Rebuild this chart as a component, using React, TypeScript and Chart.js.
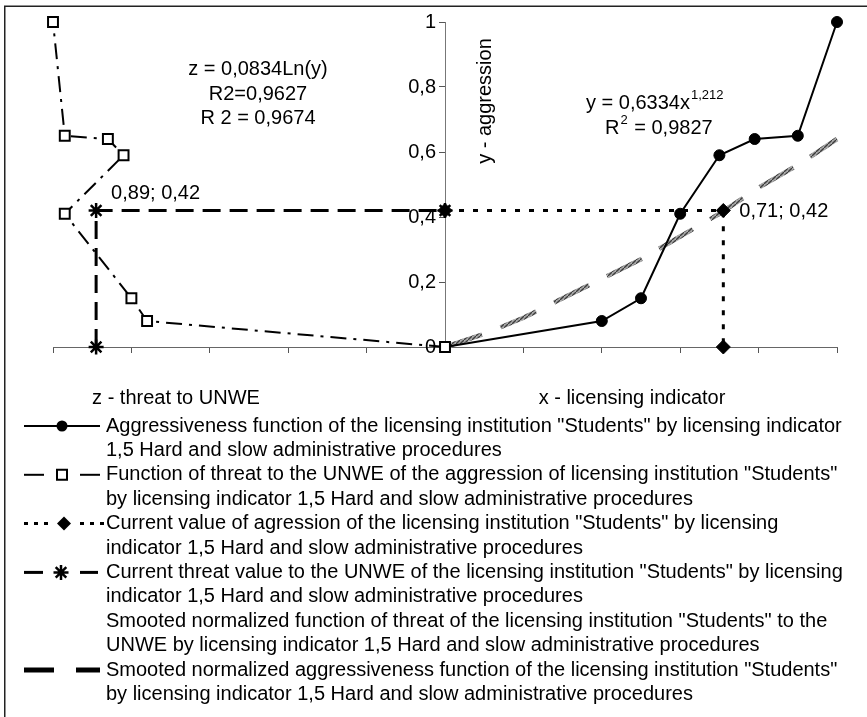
import React, { useEffect, useRef } from "react";
import { Chart, registerables } from "chart.js";

Chart.register(...registerables);

// ---- data ----
// y - aggression levels (shared by both empirical curves)
const aggressionLevels = [0, 0.08, 0.15, 0.41, 0.59, 0.64, 0.65, 1.0];
// x - licensing indicator for each aggression level
const licensingIndicator = [0, 0.4, 0.5, 0.6, 0.7, 0.79, 0.9, 1.0];
// z - threat to UNWE for each aggression level (drawn to the left of the y axis)
const threatToUnwe = [0, 0.76, 0.8, 0.97, 0.82, 0.86, 0.97, 1.0];

// current values
const currentX = 0.71;
const currentZ = 0.89;
const currentY = 0.42;

// smoothed aggressiveness function
const smoothX = [0, 0.1, 0.2, 0.3, 0.4, 0.5, 0.6, 0.7, 0.8, 0.9, 1.0];
const smoothY = [0, 0.04, 0.09, 0.15, 0.21, 0.27, 0.34, 0.41, 0.49, 0.56, 0.64];

// axis ticks
const yTicks = [0, 0.2, 0.4, 0.6, 0.8, 1];
const xTicks = [-1, -0.8, -0.6, -0.4, -0.2, 0, 0.2, 0.4, 0.6, 0.8, 1];

// texts
const zTrendLines = ["z = 0,0834Ln(y)", "R2=0,9627", "R 2 = 0,9674"];
const yTrendMain = "y = 0,6334x";
const yTrendExp = "1,212";
const yTrendR = "0,9827";
const yAxisTitle = "y - aggression";
const zAxisTitle = "z - threat to UNWE";
const xAxisTitle = "x - licensing indicator";
const legendLabels: string[][] = [
  [
    'Aggressiveness function of the licensing institution "Students" by licensing indicator',
    "1,5 Hard and slow administrative procedures",
  ],
  [
    'Function of threat to the UNWE of the aggression of licensing institution "Students"',
    "by licensing indicator 1,5 Hard and slow administrative procedures",
  ],
  [
    'Current value of agression of the licensing institution "Students" by licensing',
    "indicator 1,5 Hard and slow administrative procedures",
  ],
  [
    'Current threat value to the UNWE of the licensing institution "Students" by licensing',
    "indicator 1,5 Hard and slow administrative procedures",
  ],
  [
    'Smooted normalized function of threat of the licensing institution "Students" to the',
    "UNWE by licensing indicator 1,5 Hard and slow administrative procedures",
  ],
  [
    'Smooted normalized aggressiveness function of the licensing institution "Students"',
    "by licensing indicator 1,5 Hard and slow administrative procedures",
  ],
];

const W = 867;
const H = 717;
const FONT = "'Liberation Sans', Arial, Helvetica, sans-serif";

const fmt = (v: number) => String(Number(v.toFixed(2))).replace(".", ",");

function drawMarker(ctx: CanvasRenderingContext2D, kind: string, x: number, y: number) {
  ctx.save();
  ctx.setLineDash([]);
  ctx.strokeStyle = "#000";
  ctx.fillStyle = "#000";
  if (kind === "circle") {
    ctx.beginPath();
    ctx.arc(x, y, 5.5, 0, Math.PI * 2);
    ctx.fill();
  } else if (kind === "square") {
    ctx.lineWidth = 2;
    ctx.fillStyle = "#fff";
    ctx.beginPath();
    ctx.rect(x - 5, y - 5, 10, 10);
    ctx.fill();
    ctx.stroke();
  } else if (kind === "diamond") {
    ctx.beginPath();
    ctx.moveTo(x - 7, y);
    ctx.lineTo(x, y - 7);
    ctx.lineTo(x + 7, y);
    ctx.lineTo(x, y + 7);
    ctx.closePath();
    ctx.fill();
  } else if (kind === "star") {
    ctx.lineWidth = 2.5;
    ctx.beginPath();
    for (let i = 0; i < 4; i++) {
      const a = (i * Math.PI) / 4;
      ctx.moveTo(x - Math.cos(a) * 7.5, y - Math.sin(a) * 7.5);
      ctx.lineTo(x + Math.cos(a) * 7.5, y + Math.sin(a) * 7.5);
    }
    ctx.stroke();
  }
  ctx.restore();
}

function seg(ctx: CanvasRenderingContext2D, x1: number, x2: number, y: number, w: number, dash: number[]) {
  ctx.save();
  ctx.strokeStyle = "#000";
  ctx.lineWidth = w;
  ctx.setLineDash(dash);
  ctx.beginPath();
  ctx.moveTo(x1, y);
  ctx.lineTo(x2, y);
  ctx.stroke();
  ctx.restore();
}

function hatchPattern(): CanvasPattern | string {
  const pc = document.createElement("canvas");
  pc.width = 4;
  pc.height = 4;
  const p = pc.getContext("2d");
  if (!p) return "#808080";
  p.fillStyle = "#a8a8a8";
  p.fillRect(0, 0, 4, 4);
  p.strokeStyle = "#3c3c3c";
  p.lineWidth = 1.3;
  p.beginPath();
  p.moveTo(-1, 5);
  p.lineTo(5, -1);
  p.stroke();
  return p.createPattern(pc, "repeat") || "#808080";
}

const overlayPlugin = {
  id: "overlay",
  beforeDraw(chart: any) {
    const ctx: CanvasRenderingContext2D = chart.ctx;
    ctx.save();
    ctx.fillStyle = "#fff";
    ctx.fillRect(0, 0, W, H);
    ctx.strokeStyle = "#222";
    ctx.lineWidth = 1.5;
    ctx.beginPath();
    ctx.moveTo(4.75, H);
    ctx.lineTo(4.75, 6.25);
    ctx.lineTo(W, 6.25);
    ctx.stroke();
    ctx.restore();
  },
  afterDatasetsDraw(chart: any) {
    // y tick labels, left of the central axis
    const ctx: CanvasRenderingContext2D = chart.ctx;
    const xs = chart.scales.x;
    const ys = chart.scales.y;
    const ax = xs.getPixelForValue(0);
    ctx.save();
    ctx.fillStyle = "#000";
    ctx.font = `20px ${FONT}`;
    ctx.textAlign = "right";
    ctx.textBaseline = "middle";
    yTicks.forEach((v) => ctx.fillText(fmt(v), ax - 9, ys.getPixelForValue(v)));
    ctx.restore();
  },
  afterDraw(chart: any) {
    const ctx: CanvasRenderingContext2D = chart.ctx;
    const xs = chart.scales.x;
    const ys = chart.scales.y;
    ctx.save();
    ctx.fillStyle = "#000";
    ctx.textBaseline = "middle";
    ctx.font = `20px ${FONT}`;

    // logarithmic trend of threat
    ctx.textAlign = "center";
    ctx.fillText(zTrendLines[0], 258, 69);
    ctx.fillText(zTrendLines[1], 258, 94);
    ctx.fillText(zTrendLines[2], 258, 118);

    // power trend of aggression
    ctx.textAlign = "left";
    let x0 = 586;
    ctx.fillText(yTrendMain, x0, 103);
    const mw = ctx.measureText(yTrendMain).width;
    ctx.font = `13px ${FONT}`;
    ctx.fillText(yTrendExp, x0 + mw + 1, 95);
    ctx.font = `20px ${FONT}`;
    x0 = 605;
    ctx.fillText("R", x0, 128);
    const rw = ctx.measureText("R").width;
    ctx.font = `13px ${FONT}`;
    ctx.fillText("2", x0 + rw + 1, 120);
    const sw = ctx.measureText("2").width;
    ctx.font = `20px ${FONT}`;
    ctx.fillText(" = " + yTrendR, x0 + rw + sw + 2, 128);

    // current value labels
    const py = ys.getPixelForValue(currentY);
    ctx.fillText(`${fmt(currentZ)}; ${fmt(currentY)}`, xs.getPixelForValue(-currentZ) + 15, py - 17);
    ctx.fillText(`${fmt(currentX)}; ${fmt(currentY)}`, xs.getPixelForValue(currentX) + 16, py + 1);

    // vertical axis title
    ctx.save();
    ctx.translate(485, 101);
    ctx.rotate(-Math.PI / 2);
    ctx.textAlign = "center";
    ctx.fillText(yAxisTitle, 0, 0);
    ctx.restore();

    // horizontal axis titles
    ctx.textAlign = "center";
    ctx.fillText(zAxisTitle, 176, 398);
    ctx.fillText(xAxisTitle, 632, 398);

    // legend
    const lh = 24.4;
    const top = 426;
    ctx.textAlign = "left";
    legendLabels.forEach((lines, i) => {
      const y = top + i * 2 * lh;
      lines.forEach((t, j) => ctx.fillText(t, 106, y + j * lh));
      if (i === 0) {
        seg(ctx, 24, 100, y, 2, []);
        drawMarker(ctx, "circle", 62, y);
      } else if (i === 1) {
        seg(ctx, 24, 44, y, 2, []);
        seg(ctx, 80, 100, y, 2, []);
        drawMarker(ctx, "square", 62, y);
      } else if (i === 2) {
        seg(ctx, 24, 52, y, 3, [4, 6]);
        seg(ctx, 80, 104, y, 3, [4, 6]);
        drawMarker(ctx, "diamond", 64, y);
      } else if (i === 3) {
        seg(ctx, 24, 43, y, 3, []);
        seg(ctx, 80, 98, y, 3, []);
        drawMarker(ctx, "star", 61, y);
      } else if (i === 5) {
        seg(ctx, 24, 54, y, 5, []);
        seg(ctx, 76, 100, y, 5, []);
      }
    });
    ctx.restore();
  },
};

export default function App() {
  const ref = useRef<HTMLCanvasElement>(null);

  useEffect(() => {
    const canvas = ref.current;
    if (!canvas) return;

    const aggressionPts = licensingIndicator.map((x, i) => ({ x, y: aggressionLevels[i] }));
    const threatPts = threatToUnwe.map((z, i) => ({ x: -z, y: aggressionLevels[i] }));
    const currentAggrPts = [
      { x: 0, y: currentY },
      { x: currentX, y: currentY },
      { x: currentX, y: 0 },
    ];
    const currentThreatPts = [
      { x: -currentZ, y: 0 },
      { x: -currentZ, y: currentY },
      { x: 0, y: currentY },
    ];
    const smoothPts = smoothX.map((x, i) => ({ x, y: smoothY[i] }));

    const chart = new Chart(canvas, {
      type: "scatter",
      data: {
        datasets: [
          {
            label: legendLabels[3].join(" "),
            data: currentThreatPts,
            showLine: true,
            borderColor: "#000",
            borderWidth: 3,
            borderDash: [18, 9],
            pointStyle: "star",
            pointRadius: 7.5,
            pointBorderWidth: 2.5,
            pointBorderColor: "#000",
            clip: false,
          } as any,
          {
            label: legendLabels[2].join(" "),
            data: currentAggrPts,
            showLine: true,
            borderColor: "#000",
            borderWidth: 3,
            borderDash: [5, 9],
            pointStyle: "rectRot",
            pointRadius: 7,
            pointBackgroundColor: "#000",
            pointBorderColor: "#000",
            pointBorderWidth: 1,
            clip: false,
          } as any,
          {
            label: legendLabels[1].join(" "),
            data: threatPts,
            showLine: true,
            borderColor: "#000",
            borderWidth: 2,
            borderDash: [16, 7, 3, 7],
            pointStyle: "rect",
            pointRadius: 7,
            pointBackgroundColor: "#fff",
            pointBorderColor: "#000",
            pointBorderWidth: 2,
            clip: false,
          } as any,
          {
            label: legendLabels[0].join(" "),
            data: aggressionPts,
            showLine: true,
            borderColor: "#000",
            borderWidth: 2,
            pointStyle: "circle",
            pointRadius: 5.5,
            pointBackgroundColor: "#000",
            pointBorderColor: "#000",
            pointBorderWidth: 1,
            clip: false,
          } as any,
          {
            label: legendLabels[5].join(" "),
            data: smoothPts,
            showLine: true,
            borderColor: hatchPattern(),
            borderWidth: 4.5,
            borderDash: [39, 20],
            pointRadius: 0,
            clip: false,
          } as any,
        ],
      },
      options: {
        responsive: false,
        animation: false,
        events: [],
        layout: { padding: { left: 53, right: W - 837, top: 22, bottom: H - 347 } },
        plugins: {
          legend: { display: false },
          tooltip: { enabled: false },
          title: { display: false },
        },
        scales: {
          x: {
            type: "linear",
            position: "bottom",
            min: -1,
            max: 1,
            afterBuildTicks: (s: any) => {
              s.ticks = xTicks.map((v) => ({ value: v }));
            },
            afterFit: (s: any) => {
              s.height = 0;
            },
            ticks: { display: false },
            grid: { drawOnChartArea: false, drawTicks: true, tickLength: 6, color: "#555", lineWidth: 1 },
            border: { display: true, color: "#666", width: 1 },
          },
          y: {
            type: "linear",
            position: { x: 0 } as any,
            min: 0,
            max: 1,
            afterBuildTicks: (s: any) => {
              s.ticks = yTicks.map((v) => ({ value: v }));
            },
            afterFit: (s: any) => {
              s.width = 0;
            },
            ticks: { display: false },
            grid: { drawOnChartArea: false, drawTicks: true, tickLength: 6, color: "#555", lineWidth: 1 },
            border: { display: true, color: "#777", width: 1 },
          },
        },
      } as any,
      plugins: [overlayPlugin],
    });

    return () => chart.destroy();
  }, []);

  return (
    <div style={{ position: "fixed", left: 0, top: 0, width: W, height: H, background: "#fff" }}>
      <canvas ref={ref} width={W} height={H} style={{ display: "block", width: W, height: H }} />
    </div>
  );
}
